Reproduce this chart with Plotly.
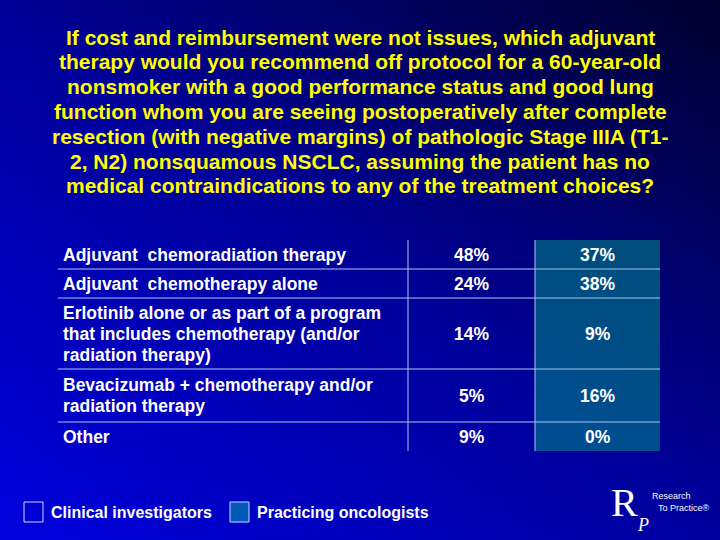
import numpy as np
import plotly.graph_objects as go

title_lines = [
    "If cost and reimbursement were not issues, which adjuvant",
    "therapy would you recommend off protocol for a 60-year-old",
    "nonsmoker with a good performance status and good lung",
    "function whom you are seeing postoperatively after complete",
    "resection (with negative margins) of pathologic Stage IIIA (T1-",
    "2, N2) nonsquamous NSCLC, assuming the patient has no",
    "medical contraindications to any of the treatment choices?",
]
choices = [
    ["Adjuvant  chemoradiation therapy"],
    ["Adjuvant  chemotherapy alone"],
    ["Erlotinib alone or as part of a program", "that includes chemotherapy (and/or", "radiation therapy)"],
    ["Bevacizumab + chemotherapy and/or", "radiation therapy"],
    ["Other"],
]
clinical_investigators = ["48%", "24%", "14%", "5%", "9%"]
practicing_oncologists = ["37%", "38%", "9%", "16%", "0%"]
legend_names = ["Clinical investigators", "Practicing oncologists"]

FONT = "Liberation Sans, Arial, sans-serif"
fig = go.Figure()

# gradient background
gx = np.linspace(-10, 730, 75)
gy = np.linspace(-10, 550, 57)
X, Y = np.meshgrid(gx, gy)
Z = Y / 540 * 1.1 - X / 720
fig.add_trace(go.Heatmap(x=gx, y=gy, z=Z, showscale=False, hoverinfo="skip",
                         colorscale=[[0, "#00002a"], [0.5, "#00009a"], [1, "#0000e0"]]))

for i, line in enumerate(title_lines):
    fig.add_annotation(x=360, y=37 + i * 24.8, text=line, showarrow=False,
                       font=dict(family=FONT, size=21, color="#ffff00", weight="bold"),
                       xanchor="center", yanchor="middle")

# table
left, c1, c2, right = 58, 408, 535, 660
top, line_h, pad = 240, 21, 8
tops = [top]
for c in choices:
    tops.append(tops[-1] + len(c) * line_h + pad + (3 if len(c) == 2 else 0))
bottom = tops[-1]

fig.add_shape(type="rect", x0=c2, x1=right, y0=top, y1=bottom, line_width=0,
              fillcolor="rgba(0,140,135,0.55)", layer="above")
for i, c in enumerate(choices):
    y0, y1 = tops[i], tops[i + 1]
    ym = (y0 + y1) / 2
    for k, part in enumerate(c):
        fig.add_annotation(x=61, y=ym + (k - (len(c) - 1) / 2) * line_h, text=part,
                           showarrow=False, xanchor="left", yanchor="middle",
                           font=dict(family=FONT, size=17.5, color="white", weight="bold"))
    for xc, v in [((c1 + c2) / 2, clinical_investigators[i]), ((c2 + right) / 2, practicing_oncologists[i])]:
        fig.add_annotation(x=xc, y=ym, text=v, showarrow=False,
                           font=dict(family=FONT, size=17.5, color="white", weight="bold"))
    if i < len(choices) - 1:
        fig.add_shape(type="line", x0=left, x1=right, y0=y1, y1=y1,
                      line=dict(color="#a8c8f0", width=1))
for xv in [c1, c2]:
    fig.add_shape(type="line", x0=xv, x1=xv, y0=top, y1=bottom, line=dict(color="#a8c8f0", width=1))

# legend
for x0, fill, name in [(24, "rgba(0,0,0,0)", legend_names[0]), (230, "#0058b8", legend_names[1])]:
    fig.add_shape(type="rect", x0=x0, x1=x0 + 19, y0=502, y1=522, fillcolor=fill,
                  line=dict(color="#c8d8ff", width=1))
    fig.add_annotation(x=x0 + 25, y=512, text=name, showarrow=False, xanchor="left",
                       font=dict(family=FONT, size=16, color="white", weight="bold"))

# logo
fig.add_annotation(x=624, y=502, text="R", showarrow=False,
                   font=dict(family="Liberation Serif, serif", size=40, color="white"))
fig.add_annotation(x=643, y=525, text="<i>P</i>", showarrow=False,
                   font=dict(family="Liberation Serif, serif", size=18, color="white"))
fig.add_annotation(x=650, y=496, text="Research", showarrow=False, xanchor="left",
                   font=dict(family=FONT, size=9, color="white"))
fig.add_annotation(x=656, y=508, text="To Practice®", showarrow=False, xanchor="left",
                   font=dict(family=FONT, size=9, color="white"))

fig.update_xaxes(range=[0, 720], visible=False)
fig.update_yaxes(range=[540, 0], visible=False)
fig.update_layout(width=720, height=540, margin=dict(l=0, r=0, t=0, b=0),
                  paper_bgcolor="#000080", plot_bgcolor="#000080", showlegend=False)
fig.write_html("out.html", config={"displayModeBar": False},
               post_script="document.body.style.margin='0';")
